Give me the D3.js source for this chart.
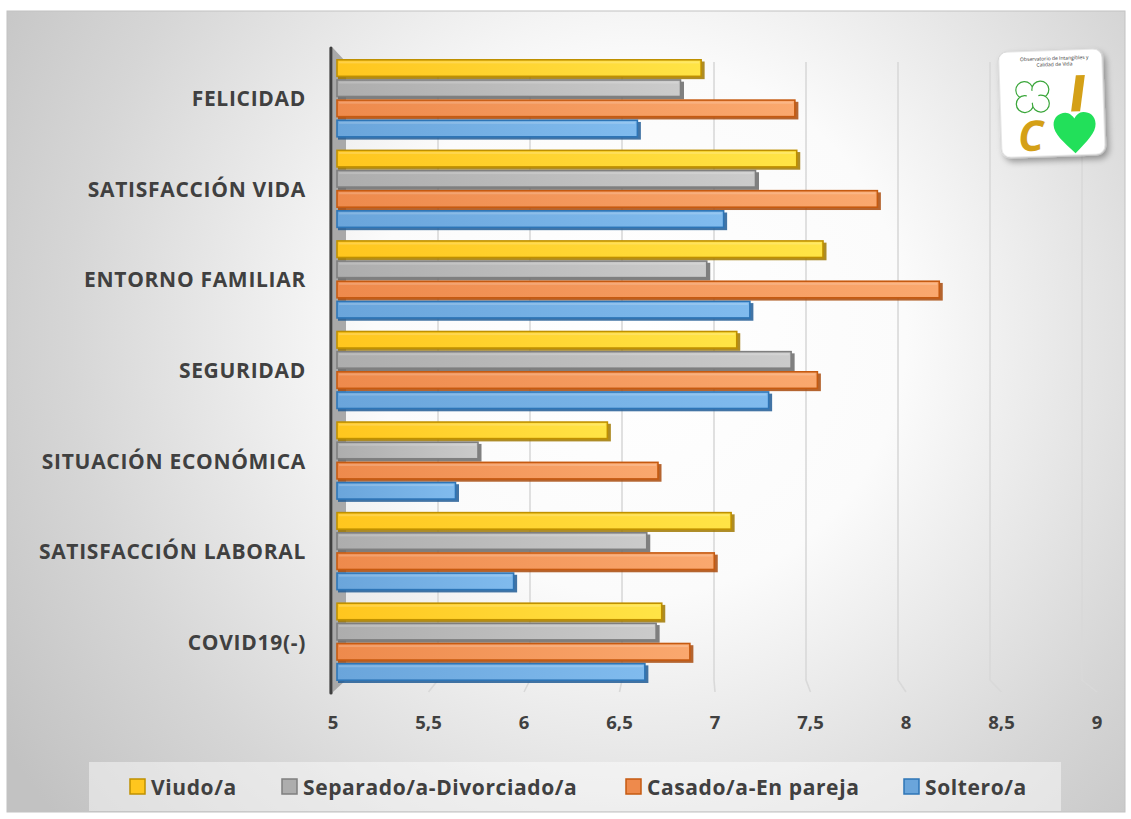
<!DOCTYPE html>
<html>
<head>
<meta charset="utf-8">
<script src="https://cdn.jsdelivr.net/npm/d3@7"></script>
<style>
  html, body { margin: 0; padding: 0; background: #ffffff; }
  svg { display: block; }
</style>
</head>
<body>
<svg id="chart" width="1131" height="819"></svg>
<script>
// ---------- DATA ----------
const categories = ["FELICIDAD", "SATISFACCIÓN VIDA", "ENTORNO FAMILIAR", "SEGURIDAD",
  "SITUACIÓN ECONÓMICA", "SATISFACCIÓN LABORAL", "COVID19(-)"];
const seriesNames = ["Viudo/a", "Separado/a-Divorciado/a", "Casado/a-En pareja", "Soltero/a"];
const viudo     = [6.95, 7.46, 7.60, 7.14, 6.45, 7.11, 6.74];
const separado  = [6.84, 7.24, 6.98, 7.43, 5.76, 6.66, 6.71];
const casado    = [7.45, 7.89, 8.22, 7.57, 6.72, 7.02, 6.89];
const soltero   = [6.61, 7.07, 7.21, 7.31, 5.64, 5.95, 6.65];
const tickValues = [5, 5.5, 6, 6.5, 7, 7.5, 8, 8.5, 9];
const tickLabels = ["5", "5,5", "6", "6,5", "7", "7,5", "8", "8,5", "9"];

const seriesValues = [viudo, separado, casado, soltero];
const seriesFill  = [["#FFC61E", "#FFE446"], ["#ADADAD", "#CBCBCB"], ["#EE8A4C", "#FAA86E"], ["#6AA5DB", "#80BBEE"]];
const seriesStroke = ["#BF9000", "#7F7F7F", "#C55A11", "#2E75B6"];
const seriesShadow = ["#A07800", "#6a6a6a", "#A84A0C", "#215C95"];

// ---------- SETUP ----------
const svg = d3.select("#chart");
const defs = svg.append("defs");

const bg = defs.append("radialGradient").attr("id", "bg")
  .attr("gradientUnits", "userSpaceOnUse")
  .attr("cx", 640).attr("cy", 330).attr("r", 760);
bg.append("stop").attr("offset", "0").attr("stop-color", "#ffffff");
bg.append("stop").attr("offset", "0.35").attr("stop-color", "#fbfbfb");
bg.append("stop").attr("offset", "0.75").attr("stop-color", "#d6d6d6");
bg.append("stop").attr("offset", "1").attr("stop-color", "#c2c2c2");

seriesFill.forEach((c, i) => {
  const g = defs.append("linearGradient").attr("id", "bar" + i)
    .attr("x1", "0").attr("x2", "1").attr("y1", "0").attr("y2", "0");
  g.append("stop").attr("offset", "0").attr("stop-color", c[0]);
  g.append("stop").attr("offset", "1").attr("stop-color", c[1]);
});

const sh = defs.append("filter").attr("id", "cardShadow").attr("x", "-20%").attr("y", "-20%").attr("width", "150%").attr("height", "150%");
sh.append("feDropShadow").attr("dx", 3).attr("dy", 4).attr("stdDeviation", 3).attr("flood-color", "#000").attr("flood-opacity", 0.35);

// Chart background
svg.append("rect").attr("x", 7).attr("y", 11).attr("width", 1118).attr("height", 801)
  .attr("fill", "url(#bg)").attr("stroke", "#c2c2c2").attr("stroke-width", 1);

// Scales
const xBar   = d3.scaleLinear().domain([5, 9]).range([337, 1087]);   // bar faces
const xBack  = d3.scaleLinear().domain([5, 9]).range([346, 1082]);   // back wall
const xFront = d3.scaleLinear().domain([5, 9]).range([333, 1097]);   // floor front edge (labels)
const y = d3.scaleBand().domain(categories).range([59, 683]).paddingInner(0.11).paddingOuter(0);
const ys = d3.scaleBand().domain(seriesNames).range([0, y.bandwidth()]).padding(0);

const plotTop = 48, wallTop = 62, floorBack = 680, floorFront = 692;

// Gridlines (back wall + floor diagonals)
const grid = svg.append("g");
tickValues.slice(1).forEach(v => {
  grid.append("path")
    .attr("d", `M${xBack(v)},${wallTop} L${xBack(v)},${floorBack} L${xFront(v)},${floorFront}`)
    .attr("fill", "none").attr("stroke", "#d9d9d9").attr("stroke-width", 1.6);
});

// Left wall (3D side) and axis line
svg.append("path")
  .attr("d", `M${xFront(5)},${plotTop} L${xBack(5)},${wallTop} L${xBack(5)},${floorBack} L${xFront(5)},${floorFront} Z`)
  .attr("fill", "#a9a9a9");
svg.append("line")
  .attr("x1", xFront(5) - 2).attr("x2", xFront(5) - 2)
  .attr("y1", plotTop).attr("y2", floorFront + 1)
  .attr("stroke", "#3f3f3f").attr("stroke-width", 3.2).attr("stroke-linecap", "round");

// Bars
const barsG = svg.append("g");
categories.forEach((cat, ci) => {
  seriesNames.forEach((s, si) => {
    const v = seriesValues[si][ci];
    const x0 = xBar(5), x1 = xBar(v);
    const yTop = y(cat) + ys(s);
    const h = ys.bandwidth();
    barsG.append("rect")
      .attr("x", x0 + 1).attr("y", yTop + 2.5)
      .attr("width", x1 - x0 + 1).attr("height", h - 2.5)
      .attr("fill", seriesShadow[si]).attr("opacity", 0.85);
    barsG.append("rect")
      .attr("x", x0).attr("y", yTop + 0.8)
      .attr("width", x1 - x0 - 1.5).attr("height", h - 3.6)
      .attr("fill", `url(#bar${si})`)
      .attr("stroke", seriesStroke[si]).attr("stroke-width", 1.6);
    barsG.append("rect")
      .attr("x", x0 + 2).attr("y", yTop + 2.4)
      .attr("width", Math.max(0, x1 - x0 - 5.5)).attr("height", 2)
      .attr("fill", "#ffffff").attr("opacity", 0.18);
  });
});

// Category labels
svg.append("g").selectAll("text").data(categories).join("text")
  .attr("x", 306)
  .attr("y", d => y(d) + y.bandwidth() / 2 + 7)
  .attr("text-anchor", "end")
  .attr("font-family", "'Open Sans', sans-serif")
  .attr("font-weight", "bold")
  .attr("font-size", 21)
  .attr("letter-spacing", 0.7)
  .attr("fill", "#404040")
  .text(d => d);

// X tick labels
svg.append("g").selectAll("text").data(tickValues).join("text")
  .attr("x", d => xFront(d))
  .attr("y", 729)
  .attr("text-anchor", "middle")
  .attr("font-family", "'Open Sans', sans-serif")
  .attr("font-weight", "bold")
  .attr("font-size", 18.5)
  .attr("fill", "#404040")
  .text((d, i) => tickLabels[i]);

// Legend
svg.append("rect").attr("x", 89).attr("y", 762).attr("width", 972).attr("height", 49)
  .attr("fill", "#ffffff").attr("opacity", 0.45);
const legendX = [130, 282, 626, 904];
const lg = svg.append("g");
seriesNames.forEach((s, i) => {
  lg.append("rect").attr("x", legendX[i]).attr("y", 779).attr("width", 15).attr("height", 15)
    .attr("fill", seriesFill[i][0]).attr("stroke", seriesStroke[i]).attr("stroke-width", 1.5);
  lg.append("text").attr("x", legendX[i] + 21).attr("y", 795)
    .attr("font-family", "'Open Sans', sans-serif")
    .attr("font-weight", "bold")
    .attr("font-size", 21)
    .attr("letter-spacing", 0.6)
    .attr("fill", "#404040")
    .text(s);
});

// Logo card
const logo = svg.append("g").attr("transform", "translate(998,52) rotate(-2)");
logo.append("rect").attr("x", 0).attr("y", 0).attr("width", 104).attr("height", 106).attr("rx", 9)
  .attr("fill", "#ffffff").attr("stroke", "#d0d0d0").attr("stroke-width", 1).attr("filter", "url(#cardShadow)");
logo.append("text").attr("x", 56).attr("y", 10).attr("text-anchor", "middle")
  .attr("font-family", "'Open Sans', sans-serif").attr("font-size", 5).attr("fill", "#333").text("Observatorio de Intangibles y");
logo.append("text").attr("x", 56).attr("y", 16).attr("text-anchor", "middle")
  .attr("font-family", "'Open Sans', sans-serif").attr("font-size", 5).attr("fill", "#333").text("Calidad de Vida");
const clover = logo.append("g").attr("transform", "translate(33,46)");
[[-8, -7], [8, -7], [-8, 7], [8, 7]].forEach(p => {
  clover.append("circle").attr("cx", p[0]).attr("cy", p[1]).attr("r", 8.5)
    .attr("fill", "#ffffff").attr("stroke", "#3aa63a").attr("stroke-width", 1.2);
});
clover.append("circle").attr("cx", 0).attr("cy", 0).attr("r", 6).attr("fill", "#ffffff");
// "I" as a thick slanted bar
logo.append("path").attr("d", "M77,26 L86,26 L80,62 L71,62 Z").attr("fill", "#D4A017");
logo.append("text").attr("x", 30).attr("y", 100).attr("text-anchor", "middle")
  .attr("font-family", "'Open Sans', sans-serif").attr("font-weight", "bold").attr("font-style", "italic")
  .attr("font-size", 42).attr("fill", "#D4A017").text("C");
logo.append("path")
  .attr("d", "M74,104 C62,92 53,84 53,75 C53,67 59,63 65,63 C69,63 72,66 74,69 C76,66 79,63 83,63 C89,63 95,67 95,75 C95,84 86,92 74,104 Z")
  .attr("fill", "#22e05a");
</script>
</body>
</html>
